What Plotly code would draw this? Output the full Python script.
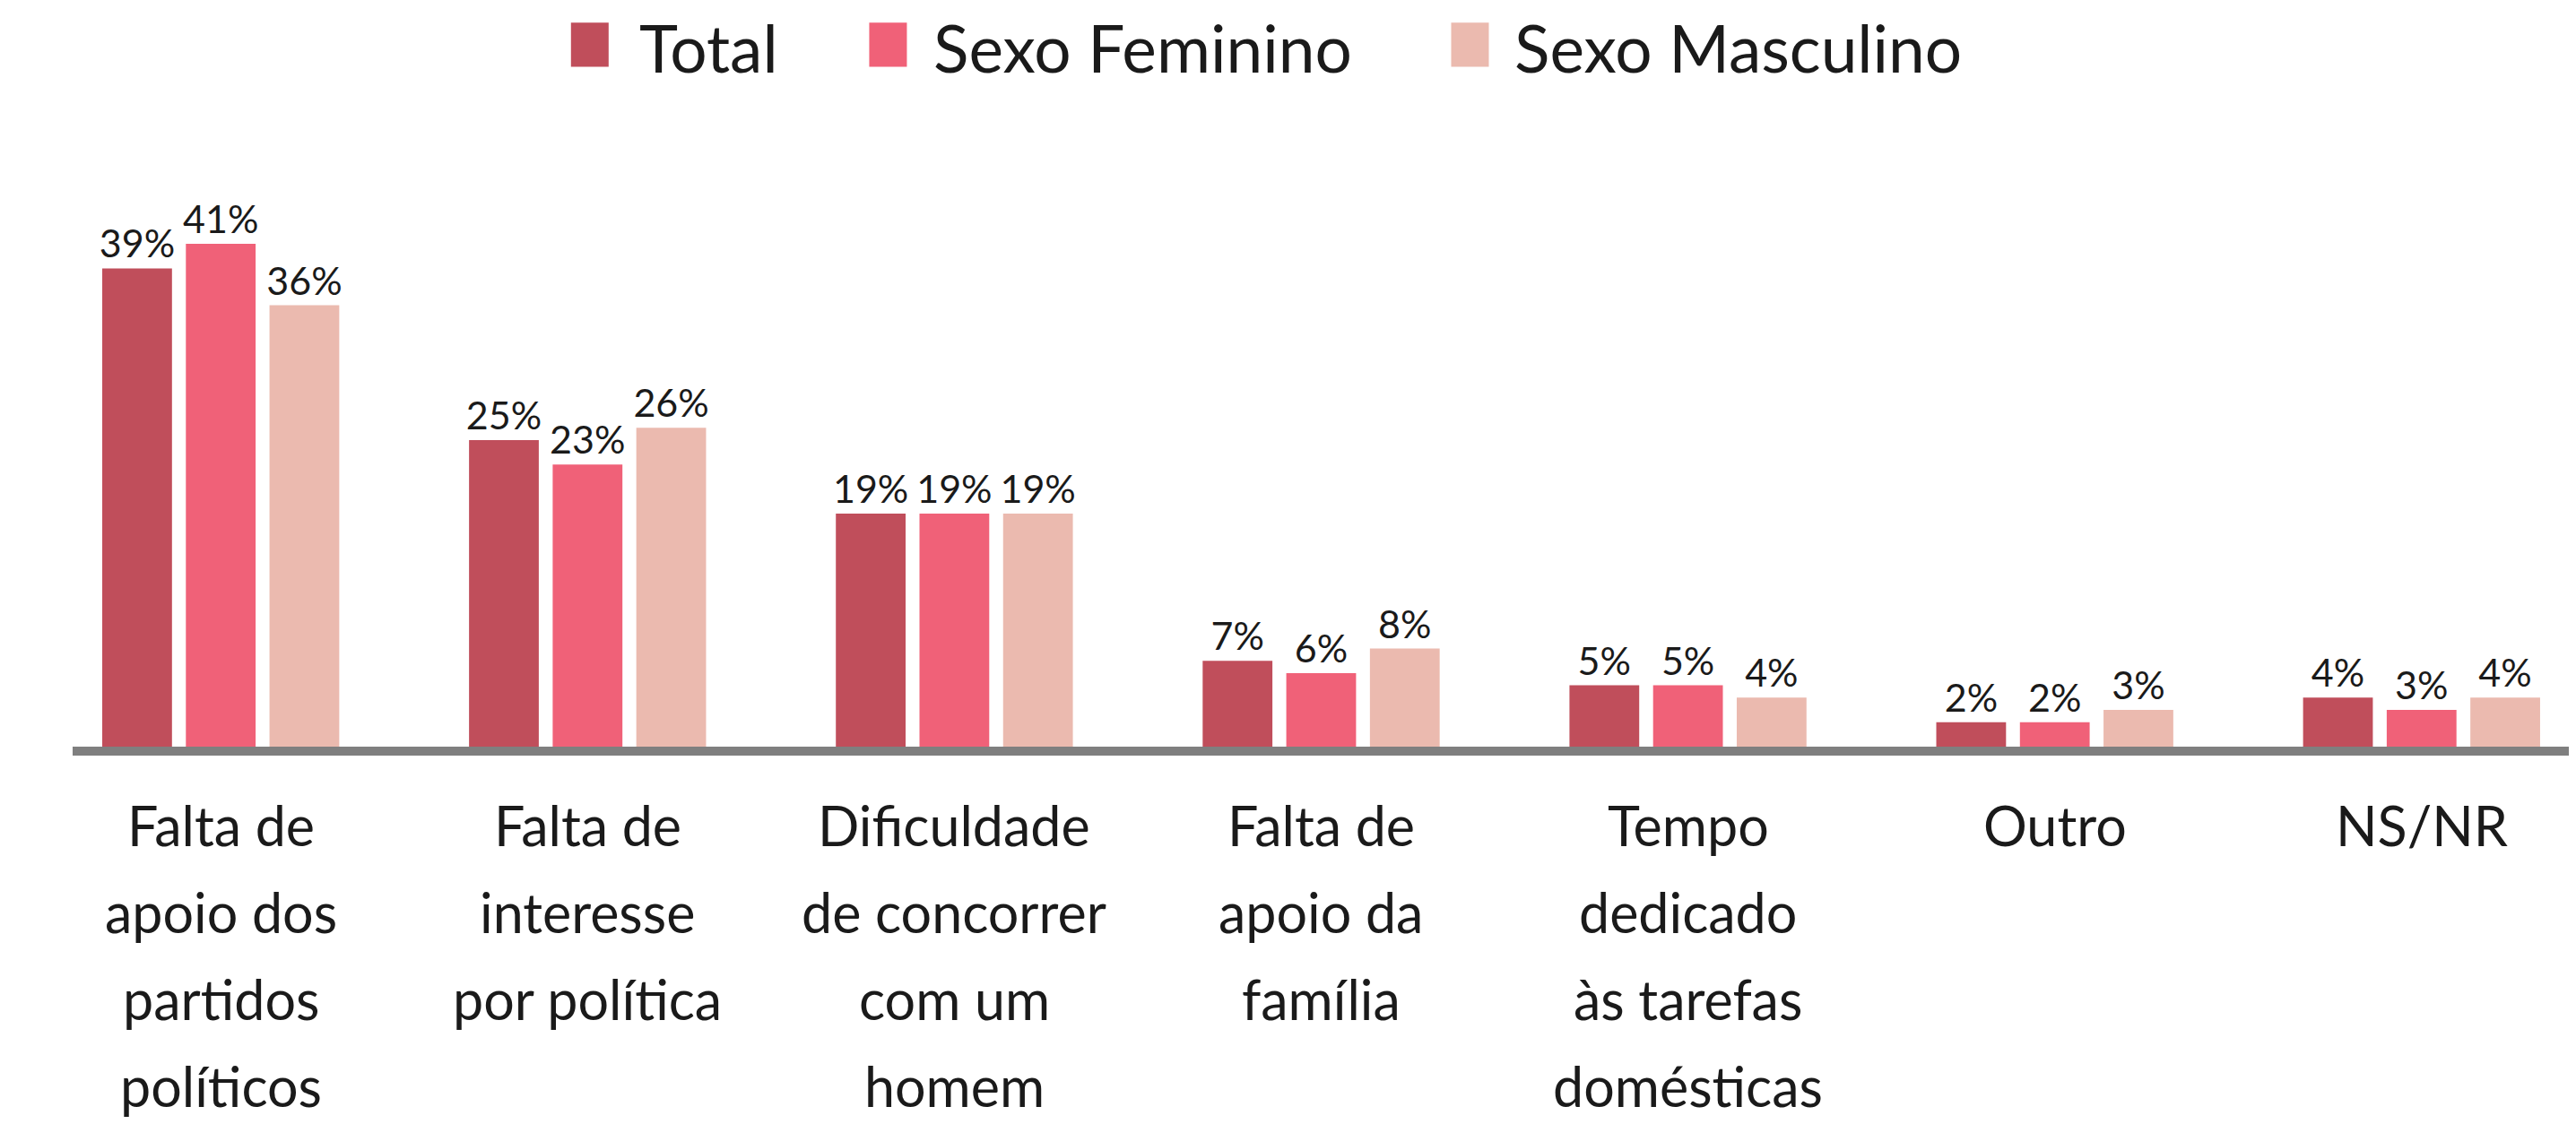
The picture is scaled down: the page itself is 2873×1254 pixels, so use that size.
import plotly.graph_objects as go

categories = [
    "Falta de apoio dos partidos políticos",
    "Falta de interesse por política",
    "Dificuldade de concorrer com um homem",
    "Falta de apoio da família",
    "Tempo dedicado às tarefas domésticas",
    "Outro",
    "NS/NR",
]
category_lines = [
    ["Falta de", "apoio dos", "partidos", "políticos"],
    ["Falta de", "interesse", "por política"],
    ["Dificuldade", "de concorrer", "com um", "homem"],
    ["Falta de", "apoio da", "família"],
    ["Tempo", "dedicado", "às tarefas", "domésticas"],
    ["Outro"],
    ["NS/NR"],
]
series_names = ["Total", "Sexo Feminino", "Sexo Masculino"]
total = [39, 25, 19, 7, 5, 2, 4]
feminino = [41, 23, 19, 6, 5, 2, 3]
masculino = [36, 26, 19, 8, 4, 3, 4]
series_values = [total, feminino, masculino]
colors = ["#C04E5B", "#F06178", "#EBBAAF"]

FONT = "Lato"
TXT = "#1a1a1a"

fig = go.Figure()
for name, vals, col in zip(series_names, series_values, colors):
    fig.add_trace(go.Bar(
        x=categories, y=vals, name=name, showlegend=False,
        marker=dict(color=col, line=dict(width=0)),
        texttemplate="%{y}%", textposition="outside",
        constraintext="none",
        textfont=dict(family=FONT, size=43, color=TXT),
        cliponaxis=False,
    ))

annotations = []
for cat, lines in zip(categories, category_lines):
    for i, line in enumerate(lines):
        annotations.append(dict(
            x=cat, y=0, xref="x", yref="y", text=line, showarrow=False,
            xanchor="center", yanchor="middle", yshift=-87 - i * 97,
            font=dict(family=FONT, size=61, color=TXT),
        ))

# legend (swatch + label), placed above the plot area
legend_swatch_x = [(0.1985, 0.2135), (0.3173, 0.3323), (0.5491, 0.5641)]
legend_text_x = [0.2253, 0.3424, 0.5738]
shapes = []
for name, col, (x0, x1), tx in zip(series_names, colors, legend_swatch_x, legend_text_x):
    shapes.append(dict(type="rect", xref="paper", yref="paper",
                       x0=x0, x1=x1, y0=1.109, y1=1.181,
                       fillcolor=col, line=dict(width=0)))
    annotations.append(dict(
        x=tx, y=1.141, xref="paper", yref="paper", text=name,
        showarrow=False, xanchor="left", yanchor="middle", borderpad=0,
        font=dict(family=FONT, size=73, color=TXT),
    ))

fig.update_layout(
    width=2873, height=1254,
    margin=dict(l=73, r=0, t=141, b=429),
    paper_bgcolor="white", plot_bgcolor="white",
    barmode="group", bargap=0.316, bargroupgap=0.166,
    font=dict(family=FONT, color=TXT),
    showlegend=False,
    xaxis=dict(
        type="category", range=[-0.4038, 6.4405],
        showticklabels=False, ticks="", showgrid=False, zeroline=False,
        showline=True, linecolor="#7f7f7f", linewidth=10,
    ),
    yaxis=dict(
        range=[0, 50], visible=False, showgrid=False, zeroline=False,
    ),
    shapes=shapes,
    annotations=annotations,
)

fig.write_html("out.html")
